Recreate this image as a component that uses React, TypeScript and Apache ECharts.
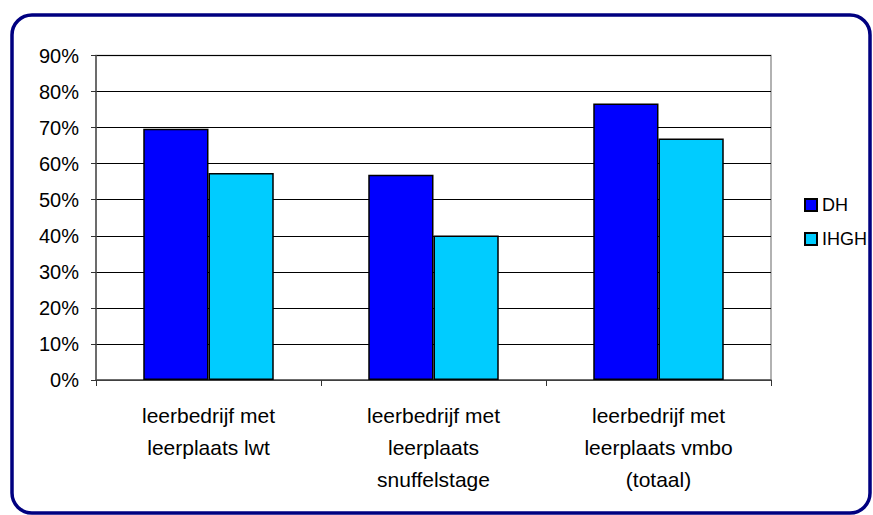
import React, { useEffect, useRef } from "react";
import * as echarts from "echarts";

const categories = [
  "leerbedrijf met\nleerplaats lwt",
  "leerbedrijf met\nleerplaats\nsnuffelstage",
  "leerbedrijf met\nleerplaats vmbo\n(totaal)",
];
const seriesNames = ["DH", "IHGH"];
const dhValues = [69.7, 56.9, 76.7];
const ihghValues = [57.4, 40.1, 67.0];
const yTicks = [0, 10, 20, 30, 40, 50, 60, 70, 80, 90];

export default function App() {
  const ref = useRef<HTMLDivElement>(null);
  useEffect(() => {
    document.body.style.margin = "0";
    const chart = echarts.init(ref.current!, null, { renderer: "svg" });
    const font = "Liberation Sans, Arial, sans-serif";
    chart.setOption({
      animation: false,
      backgroundColor: "#ffffff",
      textStyle: { fontFamily: font },
      graphic: [
        {
          type: "rect",
          shape: { x: 12, y: 15, width: 858, height: 498, r: 20 },
          style: { fill: "none", stroke: "#000080", lineWidth: 3.5 },
          silent: true,
        },
      ],
      grid: {
        left: 96,
        top: 55.5,
        width: 675,
        height: 324.5,
        show: true,
        borderColor: "#999999",
        borderWidth: 1.5,
        backgroundColor: "transparent",
      },
      legend: {
        orient: "vertical",
        left: 799,
        top: 191,
        itemWidth: 12,
        itemHeight: 12,
        itemGap: 16,
        icon: "rect",
        data: seriesNames,
        textStyle: { fontFamily: font, fontSize: 18, color: "#000", padding: [0, 0, 0, 0] },
      },
      xAxis: {
        type: "category",
        data: categories,
        axisLine: { lineStyle: { color: "#555555", width: 1.5 } },
        axisTick: { show: true, alignWithLabel: false, length: 6, lineStyle: { color: "#333" } },
        axisLabel: {
          margin: 19,
          fontFamily: font,
          fontSize: 21,
          color: "#000",
          lineHeight: 32,
          interval: 0,
        },
      },
      yAxis: {
        type: "value",
        min: 0,
        max: 90,
        interval: 10,
        axisLine: { show: true, lineStyle: { color: "#555555", width: 1.5 } },
        axisTick: { show: true, length: 5, lineStyle: { color: "#333" } },
        axisLabel: {
          formatter: (v: number) => (yTicks.includes(v) ? `${v}%` : ""),
          fontFamily: font,
          fontSize: 20,
          color: "#000",
          margin: 17,
        },
        splitLine: { lineStyle: { color: "#000", width: 1 } },
      },
      series: [
        {
          name: seriesNames[0],
          type: "bar",
          data: dhValues,
          barGap: "0%",
          barCategoryGap: "42%",
          itemStyle: { color: "#0000FF", borderColor: "#000", borderWidth: 1.5 },
        },
        {
          name: seriesNames[1],
          type: "bar",
          data: ihghValues,
          barGap: "0%",
          barCategoryGap: "42%",
          itemStyle: { color: "#00CCFF", borderColor: "#000", borderWidth: 1.5 },
        },
      ],
    });
    return () => chart.dispose();
  }, []);
  return <div ref={ref} style={{ width: 873, height: 515 }} />;
}
